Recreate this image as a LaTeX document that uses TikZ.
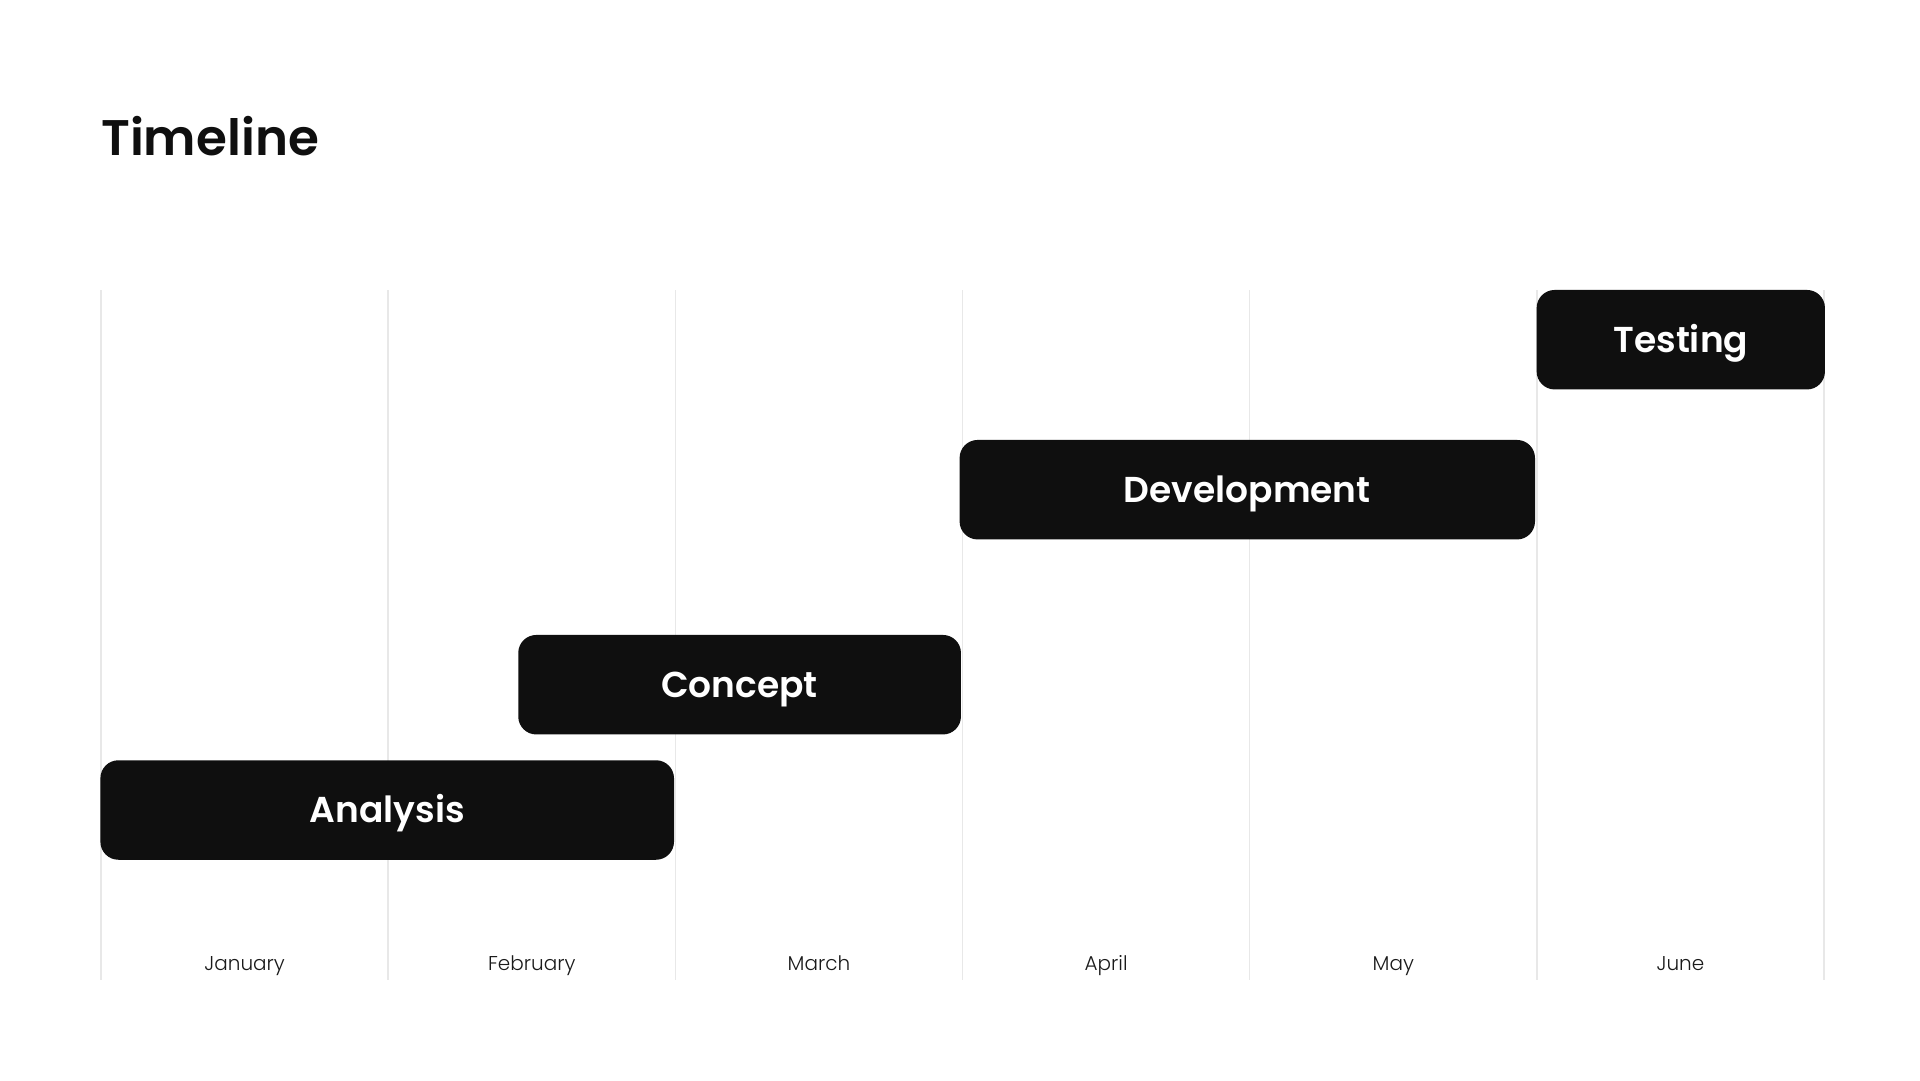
\documentclass[tikz,border=0pt]{standalone}
\usepackage{fontspec}
\setmainfont{Poppins}[BoldFont={Poppins SemiBold}]
\newfontfamily\lightfont{Poppins Light}
\definecolor{barfill}{HTML}{0F0F0F}
\definecolor{gridgray}{HTML}{E8E8E8}
\definecolor{monthtext}{HTML}{1A1A1A}
\tikzset{
  bar/.style={fill=barfill, draw=none, rounded corners=18pt, inner sep=0pt, outer sep=0pt,
    text=white, font=\fontsize{36}{40}\selectfont\bfseries, text height=25.5pt, text depth=0pt},
  gridline/.style={draw=gridgray, line width=1.5pt},
  month/.style={anchor=base, inner sep=0pt, text=monthtext, font=\lightfont\fontsize{20}{24}\selectfont},
  titletext/.style={anchor=base west, inner sep=0pt, text=barfill, font=\fontsize{50}{56}\selectfont\bfseries}
}
\begin{document}
\begin{tikzpicture}[x=1pt,y=-1pt]
\useasboundingbox[fill=white] (0,0) rectangle (1920,1080);
\node[titletext] (title) at (101,155) {Timeline};
\foreach \i in {0,...,6}{
  \coordinate (gt\i) at ({101+287.17*\i},290);
  \coordinate (gb\i) at ({101+287.17*\i},980);
  \draw[gridline] (gt\i) -- (gb\i);
}
\foreach \m [count=\i from 0] in {January,February,March,April,May,June}{
  \node[month] (m\i) at ({101+287.17*\i+143.6},970) {\m};
}
\node[bar, minimum width=573.6pt, minimum height=99.5pt] (analysis) at (387.2,810) {Analysis};
\node[bar, minimum width=442.7pt, minimum height=99.5pt] (concept) at (739.6,684.7) {Concept};
\node[bar, minimum width=575.4pt, minimum height=99.5pt] (development) at (1247.3,489.7) {Development};
\node[bar, minimum width=288.3pt, minimum height=99.5pt] (testing) at (1680.8,339.7) {Testing};
\end{tikzpicture}
\end{document}
